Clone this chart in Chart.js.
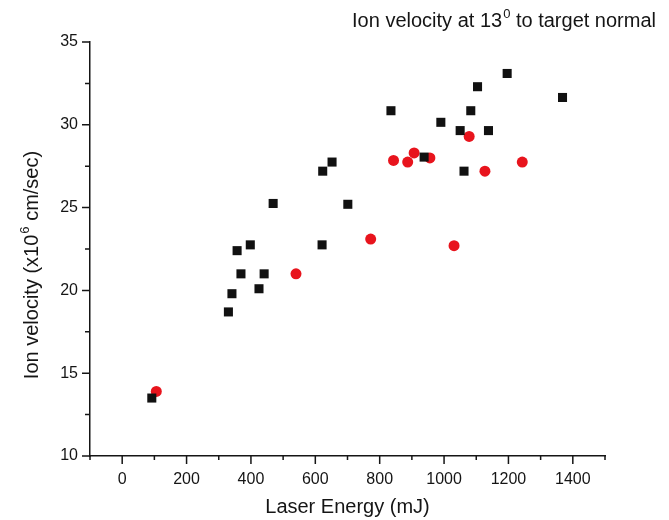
<!DOCTYPE html>
<html>
<head>
<meta charset="utf-8">
<script src="https://cdn.jsdelivr.net/npm/chart.js@4.4.1/dist/chart.umd.min.js"></script>
<style>
html, body { margin: 0; padding: 0; background: #fff; }
</style>
</head>
<body>
<canvas id="myChart" width="669" height="520"></canvas>
<script>
// values
const energySquares = [92, 330, 341, 357, 369, 398, 425, 441, 469, 621, 623, 652, 701, 835, 938, 990, 1050, 1062, 1083, 1104, 1138, 1196, 1368];
const velocitySquares = [13.5, 18.7, 19.8, 22.4, 21.0, 22.75, 20.1, 21.0, 25.25, 22.75, 27.2, 27.75, 25.2, 30.85, 28.05, 30.15, 29.65, 27.2, 30.85, 32.3, 29.65, 33.1, 31.65];

const energyCircles = [106, 540, 772, 843, 887, 907, 956, 1031, 1078, 1127, 1243];
const velocityCircles = [13.9, 21.0, 23.1, 27.85, 27.75, 28.3, 28.0, 22.7, 29.3, 27.2, 27.75];

// axis range and tick labels
const xRange = [-100, 1500];
const yRange = [10, 35];
const xLabels = [0, 200, 400, 600, 800, 1000, 1200, 1400];
const yLabels = [10, 15, 20, 25, 30, 35];

const FONT = '"Liberation Sans", Arial, sans-serif';
const INK = '#151515';

function toPoints(xs, ys) {
    return xs.map((x, i) => ({x: x, y: ys[i]}));
}

// width of "a" + superscript "b" + "c"
function supWidth(ctx, a, b, c, size) {
    ctx.font = size + 'px ' + FONT;
    const w = ctx.measureText(a).width + ctx.measureText(c).width;
    ctx.font = Math.round(size * 0.65) + 'px ' + FONT;
    return w + ctx.measureText(b).width + 1;
}

function drawSup(ctx, a, b, c, x, y, size) {
    ctx.textAlign = 'left';
    ctx.font = size + 'px ' + FONT;
    ctx.fillText(a, x, y);
    x += ctx.measureText(a).width;
    ctx.font = Math.round(size * 0.65) + 'px ' + FONT;
    ctx.fillText(b, x + 1, y - size * 0.45);
    x += ctx.measureText(b).width + 1;
    ctx.font = size + 'px ' + FONT;
    ctx.fillText(c, x, y);
}

// draws tick marks, chart title and axis titles (with superscripts)
const decorPlugin = {
    id: 'decor',
    afterDraw(chart) {
        const ctx = chart.ctx;
        const xs = chart.scales.x;
        const ys = chart.scales.y;
        const area = chart.chartArea;
        ctx.save();
        ctx.strokeStyle = INK;
        ctx.lineWidth = 1.5;
        ctx.beginPath();
        xs.ticks.forEach(t => {
            const px = xs.getPixelForValue(t.value);
            const len = xLabels.includes(t.value) ? 8 : 4;
            ctx.moveTo(px, area.bottom);
            ctx.lineTo(px, area.bottom + len);
        });
        ys.ticks.forEach(t => {
            const py = ys.getPixelForValue(t.value);
            const len = yLabels.includes(t.value) ? 8 : 5;
            ctx.moveTo(area.left, py);
            ctx.lineTo(area.left - len, py);
        });
        ctx.stroke();

        ctx.fillStyle = INK;
        ctx.textBaseline = 'alphabetic';

        // chart title, top right
        const t1 = 'Ion velocity at 13', t2 = '0', t3 = ' to target normal';
        const tw = supWidth(ctx, t1, t2, t3, 20);
        drawSup(ctx, t1, t2, t3, 656 - tw, 27, 20);

        // x axis title
        ctx.font = '20px ' + FONT;
        ctx.textAlign = 'center';
        ctx.fillText('Laser Energy (mJ)', (area.left + area.right) / 2, 513);

        // y axis title
        ctx.save();
        ctx.translate(38, 0);
        ctx.rotate(-Math.PI / 2);
        const a = 'Ion velocity (x10', b = '6', c = ' cm/sec)';
        const total = supWidth(ctx, a, b, c, 20);
        drawSup(ctx, a, b, c, -265 - total / 2, 0, 20);
        ctx.restore();

        ctx.restore();
    }
};

const data = {
    datasets: [{
        label: 'squares',
        data: toPoints(energySquares, velocitySquares),
        pointStyle: 'rect',
        pointRadius: 6.4,
        pointHoverRadius: 6.4,
        backgroundColor: '#111111',
        borderColor: '#111111',
        borderWidth: 0
    }, {
        label: 'circles',
        data: toPoints(energyCircles, velocityCircles),
        pointStyle: 'circle',
        pointRadius: 5.5,
        pointHoverRadius: 5.5,
        backgroundColor: '#e8141d',
        borderColor: '#e8141d',
        borderWidth: 0
    }]
};

const ctx = document.getElementById('myChart').getContext('2d');

const myChart = new Chart(ctx, {
    type: 'scatter',
    data: data,
    plugins: [decorPlugin],
    options: {
        responsive: false,
        animation: false,
        layout: {
            padding: {top: 42, right: 64, left: 0, bottom: 0}
        },
        scales: {
            x: {
                type: 'linear',
                min: xRange[0],
                max: xRange[1],
                grid: {display: false, drawTicks: false},
                border: {display: true, color: INK, width: 1.5},
                ticks: {
                    stepSize: 100,
                    padding: 14,
                    autoSkip: false,
                    maxRotation: 0,
                    color: INK,
                    font: {family: FONT, size: 16},
                    callback: v => xLabels.includes(v) ? String(v) : ''
                },
                afterFit: s => { s.height = 64; }
            },
            y: {
                type: 'linear',
                min: yRange[0],
                max: yRange[1],
                grid: {display: false, drawTicks: false},
                border: {display: true, color: INK, width: 1.5},
                ticks: {
                    stepSize: 2.5,
                    padding: 12,
                    autoSkip: false,
                    color: INK,
                    font: {family: FONT, size: 16},
                    callback: v => yLabels.includes(v) ? String(v) : ''
                },
                afterFit: s => { s.width = 90; }
            }
        },
        plugins: {
            legend: {display: false},
            tooltip: {enabled: false},
            title: {display: false}
        }
    }
});
</script>
</body>
</html>
